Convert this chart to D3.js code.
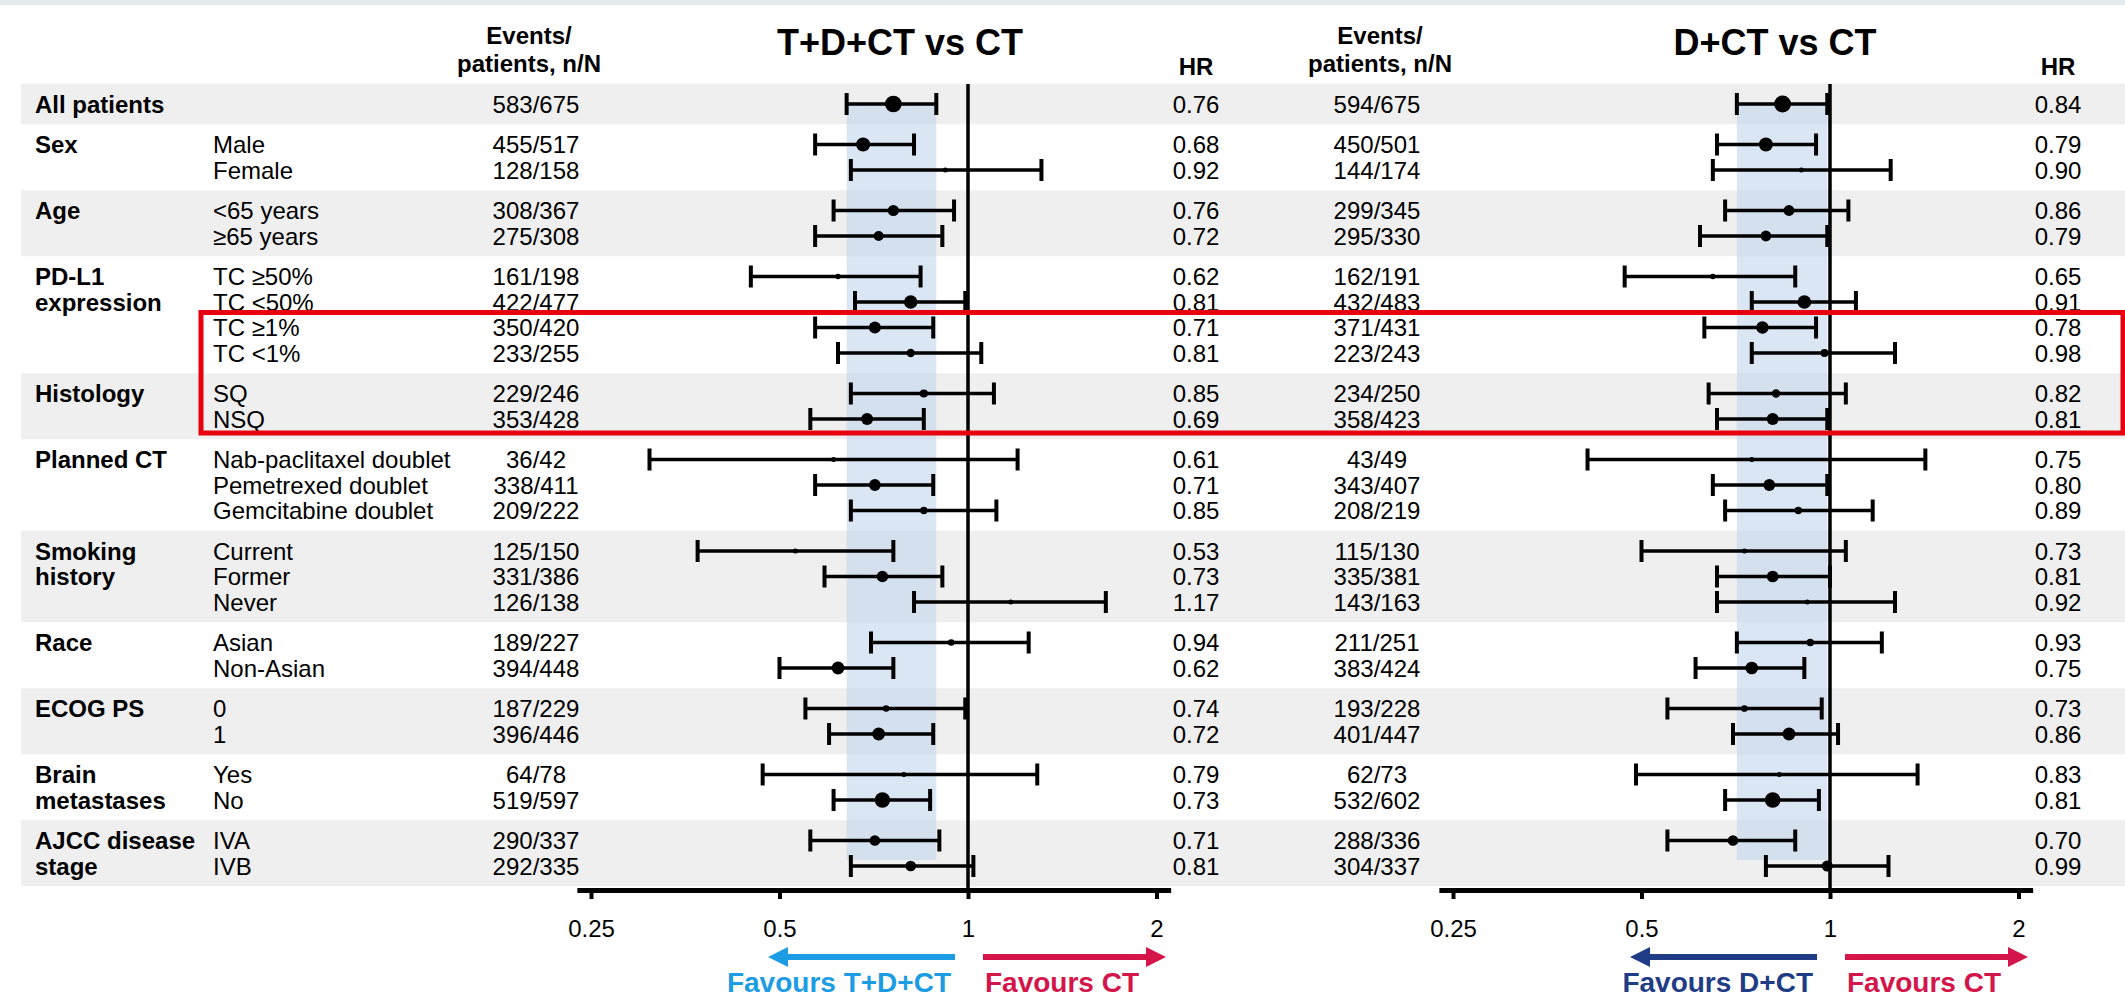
<!DOCTYPE html>
<html>
<head>
<meta charset="utf-8">
<script src="https://cdn.jsdelivr.net/npm/d3@7"></script>
<style>
  html, body { margin: 0; padding: 0; background: #ffffff; }
  svg { display: block; font-family: "Liberation Sans", Arial, sans-serif; }
</style>
</head>
<body>
<svg id="chart" width="2125" height="1001"></svg>
<script>
// ---------------- DATA ----------------
const groupLabels = [
  ["All patients"], ["Sex"], ["Age"], ["PD-L1", "expression"], ["Histology"],
  ["Planned CT"], ["Smoking", "history"], ["Race"], ["ECOG PS"],
  ["Brain", "metastases"], ["AJCC disease", "stage"]
];
const groupSizes = [1, 2, 2, 4, 2, 3, 3, 2, 2, 2, 2];
const subgroups = [
  "", "Male", "Female", "<65 years", "\u226565 years",
  "TC \u226550%", "TC <50%", "TC \u22651%", "TC <1%",
  "SQ", "NSQ",
  "Nab-paclitaxel doublet", "Pemetrexed doublet", "Gemcitabine doublet",
  "Current", "Former", "Never",
  "Asian", "Non-Asian", "0", "1", "Yes", "No", "IVA", "IVB"
];

// T+D+CT vs CT
const tdctEvents = ["583/675","455/517","128/158","308/367","275/308","161/198","422/477","350/420","233/255",
  "229/246","353/428","36/42","338/411","209/222","125/150","331/386","126/138","189/227","394/448",
  "187/229","396/446","64/78","519/597","290/337","292/335"];
const tdctHR = [0.76,0.68,0.92,0.76,0.72,0.62,0.81,0.71,0.81,0.85,0.69,0.61,0.71,0.85,0.53,0.73,1.17,0.94,0.62,0.74,0.72,0.79,0.73,0.71,0.81];
const tdctLo = [0.64,0.57,0.65,0.61,0.57,0.45,0.66,0.57,0.62,0.65,0.56,0.31,0.57,0.65,0.37,0.59,0.82,0.70,0.50,0.55,0.60,0.47,0.61,0.56,0.65];
const tdctHi = [0.89,0.82,1.31,0.95,0.91,0.84,0.99,0.88,1.05,1.10,0.85,1.20,0.88,1.11,0.76,0.91,1.66,1.25,0.76,0.99,0.88,1.29,0.87,0.90,1.02];

// D+CT vs CT
const dctEvents = ["594/675","450/501","144/174","299/345","295/330","162/191","432/483","371/431","223/243",
  "234/250","358/423","43/49","343/407","208/219","115/130","335/381","143/163","211/251","383/424",
  "193/228","401/447","62/73","532/602","288/336","304/337"];
const dctHR = [0.84,0.79,0.90,0.86,0.79,0.65,0.91,0.78,0.98,0.82,0.81,0.75,0.80,0.89,0.73,0.81,0.92,0.93,0.75,0.73,0.86,0.83,0.81,0.70,0.99];
const dctLo = [0.71,0.66,0.65,0.68,0.62,0.47,0.75,0.63,0.75,0.64,0.66,0.41,0.65,0.68,0.50,0.66,0.66,0.71,0.61,0.55,0.70,0.49,0.68,0.55,0.79];
const dctHi = [0.99,0.95,1.25,1.07,0.99,0.88,1.10,0.95,1.27,1.06,0.99,1.42,0.99,1.17,1.06,1.00,1.27,1.21,0.91,0.97,1.03,1.38,0.96,0.88,1.24];

const tickValues = [0.25, 0.5, 1, 2];
const tickLabels = ["0.25", "0.5", "1", "2"];
const panelTitles = ["T+D+CT vs CT", "D+CT vs CT"];
const favourLeft = ["Favours T+D+CT", "Favours D+CT"];
const favourRight = ["Favours CT", "Favours CT"];

// ---------------- LAYOUT ----------------
const svg = d3.select("#chart");
const W = 2125, H = 1001;
const FONT = 24;
const rowStep = 25.5, groupGap = 15, firstY = 104;
const axisY = 890;

// row positions
const rowY = [];
const groupFirst = [];
{
  let y = firstY, idx = 0;
  groupSizes.forEach((n) => {
    groupFirst.push(idx);
    for (let k = 0; k < n; k++) { rowY.push(y); y += rowStep; idx++; }
    y += groupGap;
  });
}
const pad = (rowStep + groupGap) / 2;

// top strip
svg.append("rect").attr("x", 0).attr("y", 0).attr("width", W).attr("height", 5).attr("fill", "#e3ebee");

// alternating bands
groupSizes.forEach((n, g) => {
  if (g % 2 === 0) {
    const a = rowY[groupFirst[g]], b = rowY[groupFirst[g] + n - 1];
    svg.append("rect").attr("x", 21).attr("y", a - pad).attr("width", W - 21)
      .attr("height", b - a + 2 * pad).attr("fill", "#efefef");
  }
});

// left labels
groupLabels.forEach((lines, g) => {
  lines.forEach((t, k) => {
    svg.append("text").attr("x", 35).attr("y", rowY[groupFirst[g] + k]).attr("dy", "0.358em")
      .attr("font-size", FONT).attr("font-weight", "bold").attr("fill", "#000").text(t);
  });
});
subgroups.forEach((t, i) => {
  if (!t) return;
  svg.append("text").attr("x", 213).attr("y", rowY[i]).attr("dy", "0.358em")
    .attr("font-size", FONT).attr("fill", "#000").text(t);
});

// panels
const panels = [
  { ref: 968, evX: 536, hdX: 529, hrX: 1196, titleX: 900, events: tdctEvents, hr: tdctHR, lo: tdctLo, hi: tdctHi, favCol: "#1c9ce2" },
  { ref: 1830, evX: 1377, hdX: 1380, hrX: 2058, titleX: 1775, events: dctEvents, hr: dctHR, lo: dctLo, hi: dctHi, favCol: "#1f3d86" }
];
const pxPerDoubling = 188.5;
const ext = 0.075;
const rScale = d3.scaleLinear().domain([150, 300, 600]).range([2.5, 5.5, 8.5]).clamp(true);
const fmt = d3.format(".2f");
const red = "#d4154a";

panels.forEach((p, pi) => {
  const x = d3.scaleLog().base(2)
    .domain([0.25 * Math.pow(2, -ext), 2 * Math.pow(2, ext)])
    .range([p.ref - (2 + ext) * pxPerDoubling, p.ref + (1 + ext) * pxPerDoubling]);

  // headers
  svg.append("text").attr("x", p.hdX).attr("y", 44).attr("text-anchor", "middle")
    .attr("font-size", FONT).attr("font-weight", "bold").text("Events/");
  svg.append("text").attr("x", p.hdX).attr("y", 72).attr("text-anchor", "middle")
    .attr("font-size", FONT).attr("font-weight", "bold").text("patients, n/N");
  svg.append("text").attr("x", p.hrX).attr("y", 75).attr("text-anchor", "middle")
    .attr("font-size", FONT).attr("font-weight", "bold").text("HR");
  svg.append("text").attr("x", p.titleX).attr("y", 55).attr("text-anchor", "middle")
    .attr("font-size", 36).attr("font-weight", "bold").text(panelTitles[pi]);

  // shaded CI of all patients
  svg.append("rect").attr("x", x(p.lo[0])).attr("y", rowY[0])
    .attr("width", x(p.hi[0]) - x(p.lo[0])).attr("height", rowY[rowY.length - 1] - 6 - rowY[0])
    .attr("fill", "#c3d6ec").attr("opacity", 0.6);

  // events and HR columns
  p.events.forEach((t, i) => {
    svg.append("text").attr("x", p.evX).attr("y", rowY[i]).attr("dy", "0.358em")
      .attr("text-anchor", "middle").attr("font-size", FONT).text(t);
    svg.append("text").attr("x", p.hrX).attr("y", rowY[i]).attr("dy", "0.358em")
      .attr("text-anchor", "middle").attr("font-size", FONT).text(fmt(p.hr[i]));
  });

  // reference line
  svg.append("line").attr("x1", x(1)).attr("x2", x(1)).attr("y1", 84).attr("y2", axisY)
    .attr("stroke", "#000").attr("stroke-width", 3.5);

  // whiskers
  const g = svg.append("g");
  p.hr.forEach((v, i) => {
    const y = rowY[i];
    g.append("line").attr("x1", x(p.lo[i])).attr("x2", x(p.hi[i])).attr("y1", y).attr("y2", y)
      .attr("stroke", "#000").attr("stroke-width", 3.5);
    [p.lo[i], p.hi[i]].forEach(c => {
      g.append("line").attr("x1", x(c)).attr("x2", x(c)).attr("y1", y - 11).attr("y2", y + 11)
        .attr("stroke", "#000").attr("stroke-width", 4);
    });
    const n = +p.events[i].split("/")[0];
    g.append("circle").attr("cx", x(v)).attr("cy", y).attr("r", rScale(n)).attr("fill", "#000");
  });

  // axis
  const axis = d3.axisBottom(x).tickValues(tickValues)
    .tickFormat((d, i) => tickLabels[i]).tickSize(9).tickSizeOuter(0).tickPadding(21);
  const ag = svg.append("g").attr("transform", `translate(0,${axisY})`).call(axis);
  ag.select(".domain").attr("stroke", "#000").attr("stroke-width", 5);
  ag.selectAll(".tick line").attr("stroke", "#000").attr("stroke-width", 4);
  ag.selectAll(".tick text").attr("font-size", FONT).attr("fill", "#000")
    .attr("font-family", "'Liberation Sans', Arial, sans-serif");

  // favour arrows
  const ay = 957;
  svg.append("line").attr("x1", x(1) - 13).attr("x2", x(1) - 185).attr("y1", ay).attr("y2", ay)
    .attr("stroke", p.favCol).attr("stroke-width", 6);
  svg.append("path").attr("d", `M${x(1) - 200},${ay} L${x(1) - 180},${ay - 10} L${x(1) - 180},${ay + 10} Z`)
    .attr("fill", p.favCol);
  svg.append("line").attr("x1", x(1) + 15).attr("x2", x(1) + 183).attr("y1", ay).attr("y2", ay)
    .attr("stroke", red).attr("stroke-width", 6);
  svg.append("path").attr("d", `M${x(1) + 198},${ay} L${x(1) + 178},${ay - 10} L${x(1) + 178},${ay + 10} Z`)
    .attr("fill", red);
  svg.append("text").attr("x", x(1) - 17).attr("y", 992).attr("text-anchor", "end")
    .attr("font-size", 28).attr("font-weight", "bold").attr("fill", p.favCol).text(favourLeft[pi]);
  svg.append("text").attr("x", x(1) + 17).attr("y", 992).attr("text-anchor", "start")
    .attr("font-size", 28).attr("font-weight", "bold").attr("fill", red).text(favourRight[pi]);
});

// red highlight box (TC >=1% through NSQ)
const boxTop = rowY[7] - 15, boxBot = rowY[10] + 14;
svg.append("rect").attr("x", 201).attr("y", boxTop).attr("width", W - 201 - 2).attr("height", boxBot - boxTop)
  .attr("fill", "none").attr("stroke", "#e8000f").attr("stroke-width", 5);
</script>
</body>
</html>
